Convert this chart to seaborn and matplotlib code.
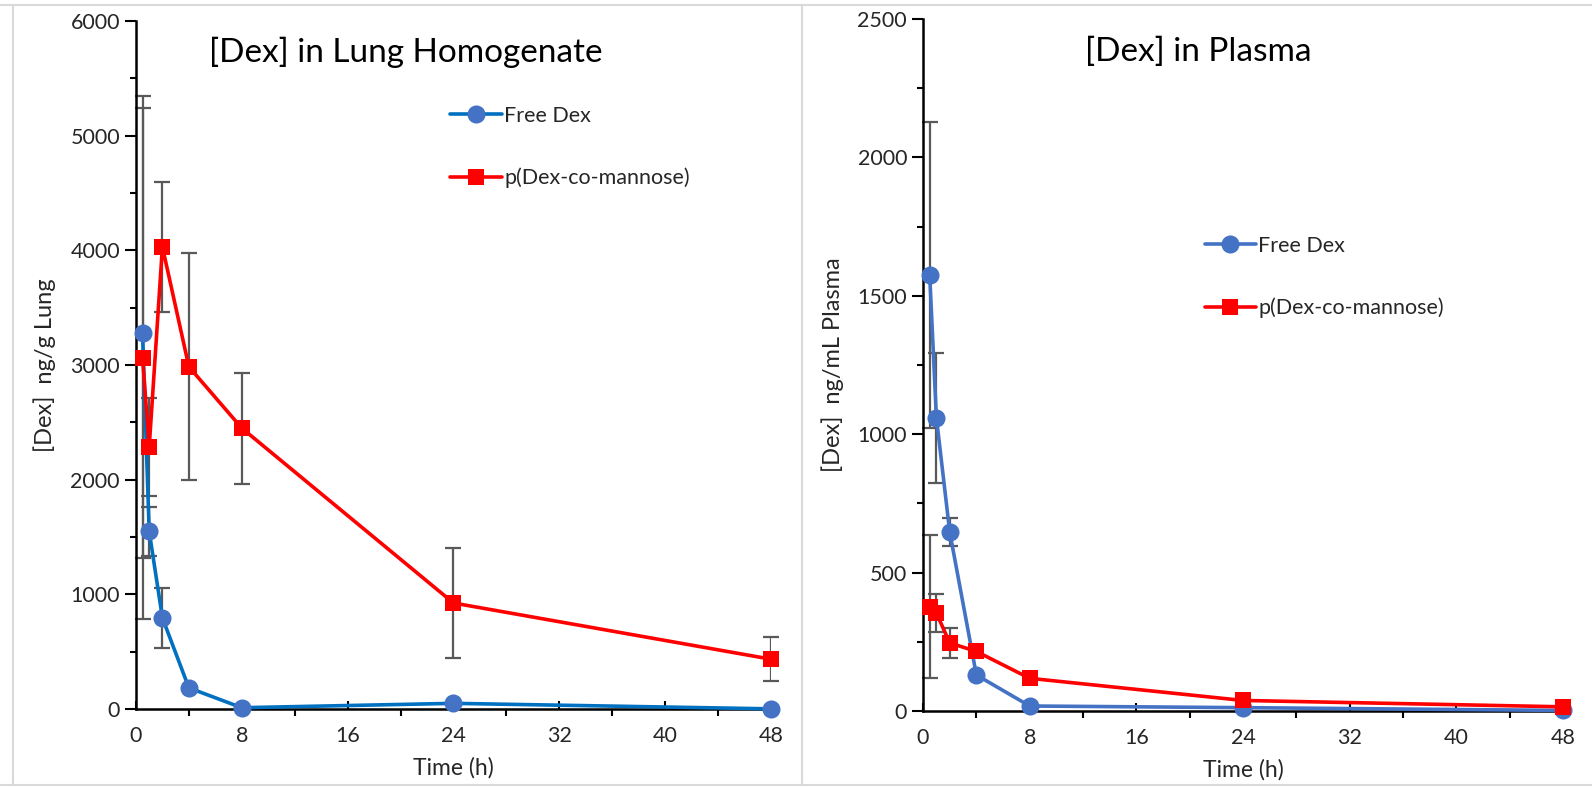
import numpy as np
import pandas as pd
import matplotlib.pyplot as plt
import seaborn as sns
from matplotlib.lines import Line2D
from matplotlib.ticker import MultipleLocator

# sampling times (h)
time_h = [0.5, 1, 2, 4, 8, 24, 48]

# lung homogenate, ng/g
lung_free = [3280, 1550, 795, 185, 12, 50, 2]
lung_free_err = [1960, 215, 265, 0, 0, 0, 0]
lung_poly = [3065, 2285, 4030, 2985, 2450, 925, 435]
lung_poly_err = [2280, 425, 570, 990, 485, 480, 190]

# plasma, ng/mL
plasma_free = [1576, 1060, 647, 130, 18, 12, 2]
plasma_free_err = [553, 235, 50, 0, 0, 0, 0]
plasma_poly = [376, 354, 246, 215, 118, 38, 15]
plasma_poly_err = [258, 70, 55, 0, 0, 0, 0]

series_names = ["Free Dex", "p(Dex-co-mannose)"]

sns.set_style("ticks")
plt.rcParams["font.family"] = ["Lato", "DejaVu Sans"]

BLUE_MK = "#4472C4"
RED = "#FF0000"
ERR = "#595959"


def long_df(free, poly):
    return pd.DataFrame({
        "time": time_h * 2,
        "conc": free + poly,
        "series": [series_names[0]] * len(time_h) + [series_names[1]] * len(time_h),
    })


def draw(ax, free, free_err, poly, poly_err, line_blue, ymax, ymaj, ymin,
         title, title_xy, ylabel, leg_xy):
    df = long_df(free, poly)
    ax.errorbar(time_h, free, yerr=free_err, fmt="none", ecolor=ERR, elinewidth=1.6,
                capsize=6, capthick=1.6, zorder=1)
    ax.errorbar(time_h, poly, yerr=poly_err, fmt="none", ecolor=ERR, elinewidth=1.6,
                capsize=6, capthick=1.6, zorder=1)
    sns.lineplot(data=df, x="time", y="conc", hue="series", style="series",
                 palette={series_names[0]: line_blue, series_names[1]: RED},
                 markers={series_names[0]: "o", series_names[1]: "s"}, dashes=False,
                 linewidth=2.6, markersize=13, markeredgewidth=0, ax=ax, zorder=3,
                 legend=False)
    for ln in ax.lines:
        ln.set_clip_on(False)
        if ln.get_marker() == "o":
            # circle markers are a lighter blue than the line
            ln.set_markerfacecolor(BLUE_MK)
        elif ln.get_marker() == "s":
            ln.set_markersize(12)

    ax.set_xlim(0, 48)
    ax.set_ylim(0, ymax)
    ax.xaxis.set_major_locator(MultipleLocator(8))
    ax.xaxis.set_minor_locator(MultipleLocator(4))
    ax.yaxis.set_major_locator(MultipleLocator(ymaj))
    ax.yaxis.set_minor_locator(MultipleLocator(ymin))
    ax.tick_params(axis="x", which="major", direction="in", length=6, width=1.5,
                   labelsize=15.5, pad=12, color="black")
    ax.tick_params(axis="x", which="minor", direction="out", length=5, width=1.5, color="black")
    ax.tick_params(axis="y", which="major", direction="out", length=8, width=1.5,
                   labelsize=15.5, color="black")
    ax.tick_params(axis="y", which="minor", direction="out", length=4, width=1.5, color="black")
    for lab in ax.get_xticklabels() + ax.get_yticklabels():
        lab.set_color("#262626")
    sns.despine(ax=ax)
    for s in ["left", "bottom"]:
        ax.spines[s].set_linewidth(1.8)
        ax.spines[s].set_color("black")
    ax.set_xlabel("Time (h)", fontsize=16.5, color="#262626", labelpad=8)
    ax.set_ylabel(ylabel, fontsize=17, color="#262626", labelpad=10)
    ax.text(title_xy[0], title_xy[1], title, transform=ax.transAxes, fontsize=24,
            ha="center", va="center", color="black")

    handles = [
        Line2D([], [], color=line_blue, lw=2.6, marker="o", markersize=13,
               markerfacecolor=BLUE_MK, markeredgewidth=0),
        Line2D([], [], color=RED, lw=2.6, marker="s", markersize=11, markeredgewidth=0),
    ]
    ax.legend(handles, series_names, loc="center left", bbox_to_anchor=leg_xy,
              frameon=False, fontsize=15.5, handlelength=2.4, handletextpad=0.1,
              labelspacing=1.95, borderpad=0, borderaxespad=0)


fig = plt.figure(figsize=(15.92, 7.87), dpi=100)
ax1 = fig.add_axes([0.0854, 0.099, 0.3989, 0.8743])
ax2 = fig.add_axes([0.5798, 0.0966, 0.402, 0.8793])

draw(ax1, lung_free, lung_free_err, lung_poly, lung_poly_err, "#0070C0",
     6000, 1000, 500, "[Dex] in Lung Homogenate", (0.425, 0.955),
     "[Dex]  ng/g Lung", (0.495, 0.817))
draw(ax2, plasma_free, plasma_free_err, plasma_poly, plasma_poly_err, BLUE_MK,
     2500, 500, 250, "[Dex] in Plasma", (0.43, 0.952),
     "[Dex]  ng/mL Plasma", (0.44, 0.627))

# light grey panel frames
frame = dict(color="#D9D9D9", lw=1.5, transform=fig.transFigure)
fig.add_artist(Line2D([0.008, 0.008], [0.003, 0.994], **frame))
fig.add_artist(Line2D([0.504, 0.504], [0.003, 0.994], **frame))
fig.add_artist(Line2D([0.0, 1.0], [0.994, 0.994], **frame))
fig.add_artist(Line2D([0.0, 1.0], [0.003, 0.003], **frame))

fig.savefig("out.png", dpi=100)
plt.close(fig)
